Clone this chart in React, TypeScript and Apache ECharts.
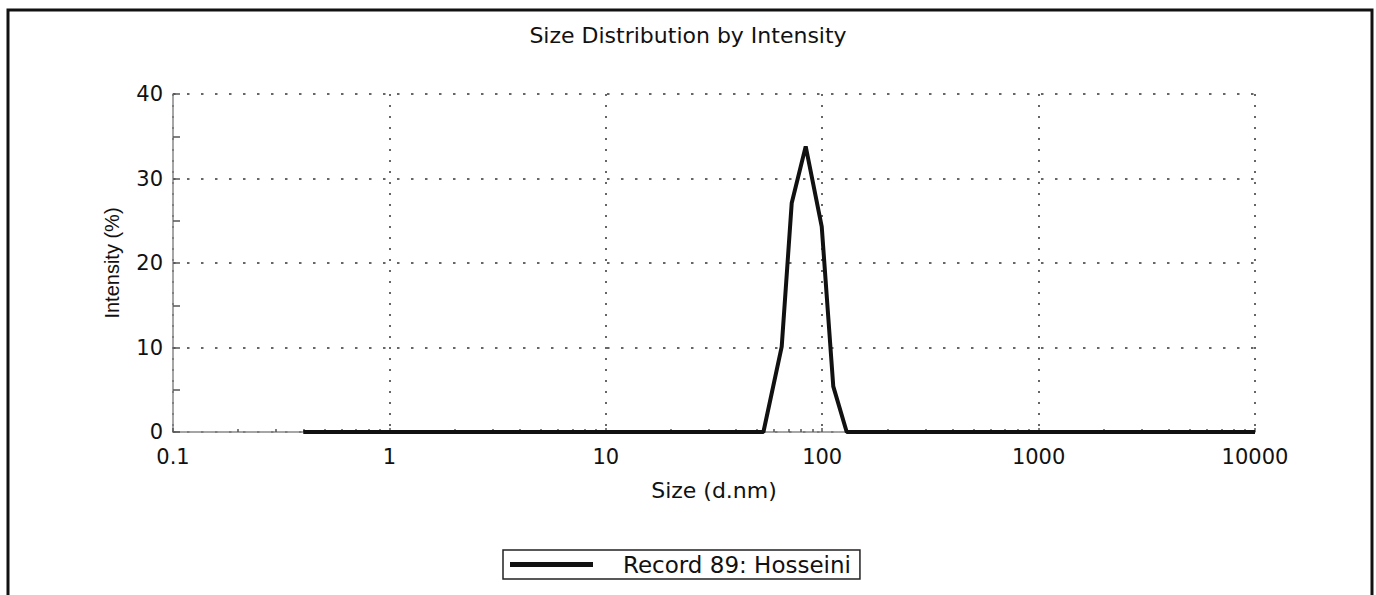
import { useEffect, useRef } from "react";
import * as echarts from "echarts";

const titleText = "Size Distribution by Intensity";
const xAxisName = "Size (d.nm)";
const yAxisName = "Intensity (%)";
const seriesName = "Record 89: Hosseini";

// size (d.nm) and intensity (%)
const sizes = [0.4, 53.5, 65.0, 72.3, 83.9, 99.5, 112.5, 129.8, 10000];
const intensities = [0, 0, 10.1, 27.1, 33.8, 24.3, 5.4, 0, 0];

const xTickLabels = ["0.1", "1", "10", "100", "1000", "10000"];
const yTickLabels = ["0", "10", "20", "30", "40"];

const FONT = "DejaVu Sans";
const TEXT_COLOR = "#111";

export default function App() {
  const ref = useRef<HTMLDivElement>(null);

  useEffect(() => {
    if (!ref.current) return;
    const chart = echarts.init(ref.current, undefined, { renderer: "svg" });
    const option = {
      animation: false,
      backgroundColor: "#ffffff",
      title: {
        text: titleText,
        left: "center",
        top: 19,
        textStyle: { fontFamily: FONT, fontSize: 22, fontWeight: "normal", color: TEXT_COLOR },
      },
      grid: { left: 173, right: 121, top: 94, bottom: 163, containLabel: false },
      xAxis: {
        type: "log",
        logBase: 10,
        min: 0.1,
        max: 10000,
        name: xAxisName,
        nameLocation: "middle",
        nameGap: 47,
        nameTextStyle: { fontFamily: FONT, fontSize: 22, color: TEXT_COLOR },
        axisLine: { show: true, lineStyle: { color: "#888", width: 1.5 } },
        axisTick: { show: true, inside: true, length: 4, lineStyle: { color: "#555", width: 1.5 } },
        minorTick: { show: true, splitNumber: 9, length: 3, lineStyle: { color: "#555", width: 1.5 } },
        axisLabel: {
          margin: 14,
          fontFamily: FONT,
          fontSize: 21,
          color: TEXT_COLOR,
          formatter: (v: number) => xTickLabels[Math.round(Math.log10(v)) + 1] ?? "",
        },
        splitLine: { show: true, lineStyle: { type: [2, 9], color: "#666", width: 2 } },
      },
      yAxis: {
        type: "value",
        min: 0,
        max: 40,
        interval: 10,
        name: yAxisName,
        nameLocation: "middle",
        nameGap: 51,
        nameTextStyle: { fontFamily: "Liberation Sans", fontSize: 20, color: TEXT_COLOR },
        axisLine: { show: true, lineStyle: { color: "#888", width: 1.5 } },
        axisTick: { show: true, inside: true, length: 7, lineStyle: { color: "#555", width: 1.5 } },
        minorTick: { show: true, splitNumber: 2, length: 7, lineStyle: { color: "#555", width: 1.5 } },
        axisLabel: {
          margin: 10,
          fontFamily: FONT,
          fontSize: 21,
          color: TEXT_COLOR,
          formatter: (v: number) => yTickLabels[Math.round(v / 10)] ?? "",
        },
        splitLine: { show: true, lineStyle: { type: [2.5, 11.5], color: "#666", width: 2 } },
      },
      legend: {
        left: 503,
        top: 550,
        padding: [3, 9, 3, 7],
        borderColor: "#222",
        borderWidth: 1.5,
        itemWidth: 83,
        itemHeight: 5,
        icon: "rect",
        textStyle: { fontFamily: FONT, fontSize: 23, color: TEXT_COLOR, padding: [0, 0, 0, 25] },
        data: [seriesName],
      },
      series: [
        {
          type: "line",
          name: seriesName,
          data: sizes.map((s, i) => [s, intensities[i]]),
          showSymbol: false,
          symbol: "none",
          lineStyle: { color: "#111", width: 4 },
          itemStyle: { color: "#111" },
          z: 3,
        },
      ],
      graphic: [
        {
          type: "rect",
          silent: true,
          shape: { x: 8, y: 10, width: 1364, height: 600 },
          style: { fill: "none", stroke: "#111", lineWidth: 3 },
        },
      ],
    };
    chart.setOption(option as any);
    return () => chart.dispose();
  }, []);

  return (
    <div
      ref={ref}
      style={{ position: "absolute", left: 0, top: 0, width: 1376, height: 595 }}
    />
  );
}
